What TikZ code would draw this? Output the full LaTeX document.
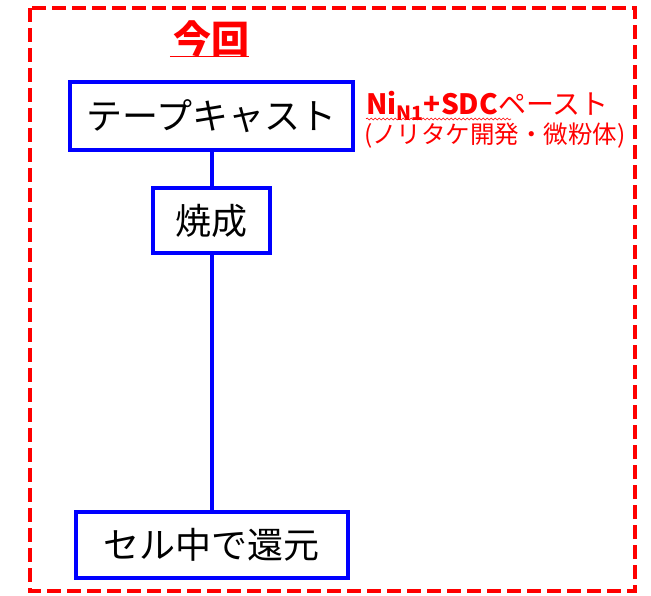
\documentclass[tikz,border=0pt]{standalone}
\usepackage{fontspec}
\setmainfont{Noto Sans CJK JP}
\usetikzlibrary{decorations.pathmorphing}
\definecolor{pblue}{RGB}{0,0,255}
\definecolor{pred}{RGB}{255,0,0}
\tikzset{
  stepbox/.style={draw=pblue, line width=4pt, fill=white, inner sep=0pt, font=\fontsize{36}{42}\selectfont},
  link/.style={draw=pblue, line width=4pt},
  note/.style={text=pred, inner sep=0pt}
}
\begin{document}
\begin{tikzpicture}[x=1pt,y=-1pt]
\useasboundingbox (0,0) rectangle (651,595);
\draw[pred, line width=4pt, dash pattern=on 14pt off 6pt] (30,8) rectangle (635,591);
\node[note, font=\fontsize{38}{44}\selectfont\bfseries] (title) at (211,39) {今回};
\draw[pred, line width=1.2pt] (title.south west) ++(-3,-1) coordinate (ul1) -- (title.south east |- ul1) coordinate (ul2);
\node[stepbox, minimum width=283pt, minimum height=68pt] (tape) at (211.5,116) {テープキャスト};
\node[stepbox, minimum width=117pt, minimum height=65pt] (fire) at (211.5,220.5) {焼成};
\node[stepbox, minimum width=272pt, minimum height=66pt] (cell) at (211.5,545) {セル中で還元};
\draw[link] (tape.south -| fire.north) -- (fire.north);
\draw[link] (fire.south) -- (fire.south |- cell.north);
\node[note, anchor=base west, font=\fontsize{28}{32}\selectfont] (paste) at (366,114) {\textbf{Ni\textsubscript{N1}+SDC}ペースト};
\node[note, anchor=base west, font=\fontsize{24.5}{28}\selectfont] (maker) at (364,143) {(ノリタケ開発・微粉体)};
\draw[pred, line width=0.6pt, decorate, decoration={snake, amplitude=1pt, segment length=4pt}] (paste.base west) ++(0,5) coordinate (w1) -- ++(145,0) coordinate (w2);
\end{tikzpicture}
\end{document}
